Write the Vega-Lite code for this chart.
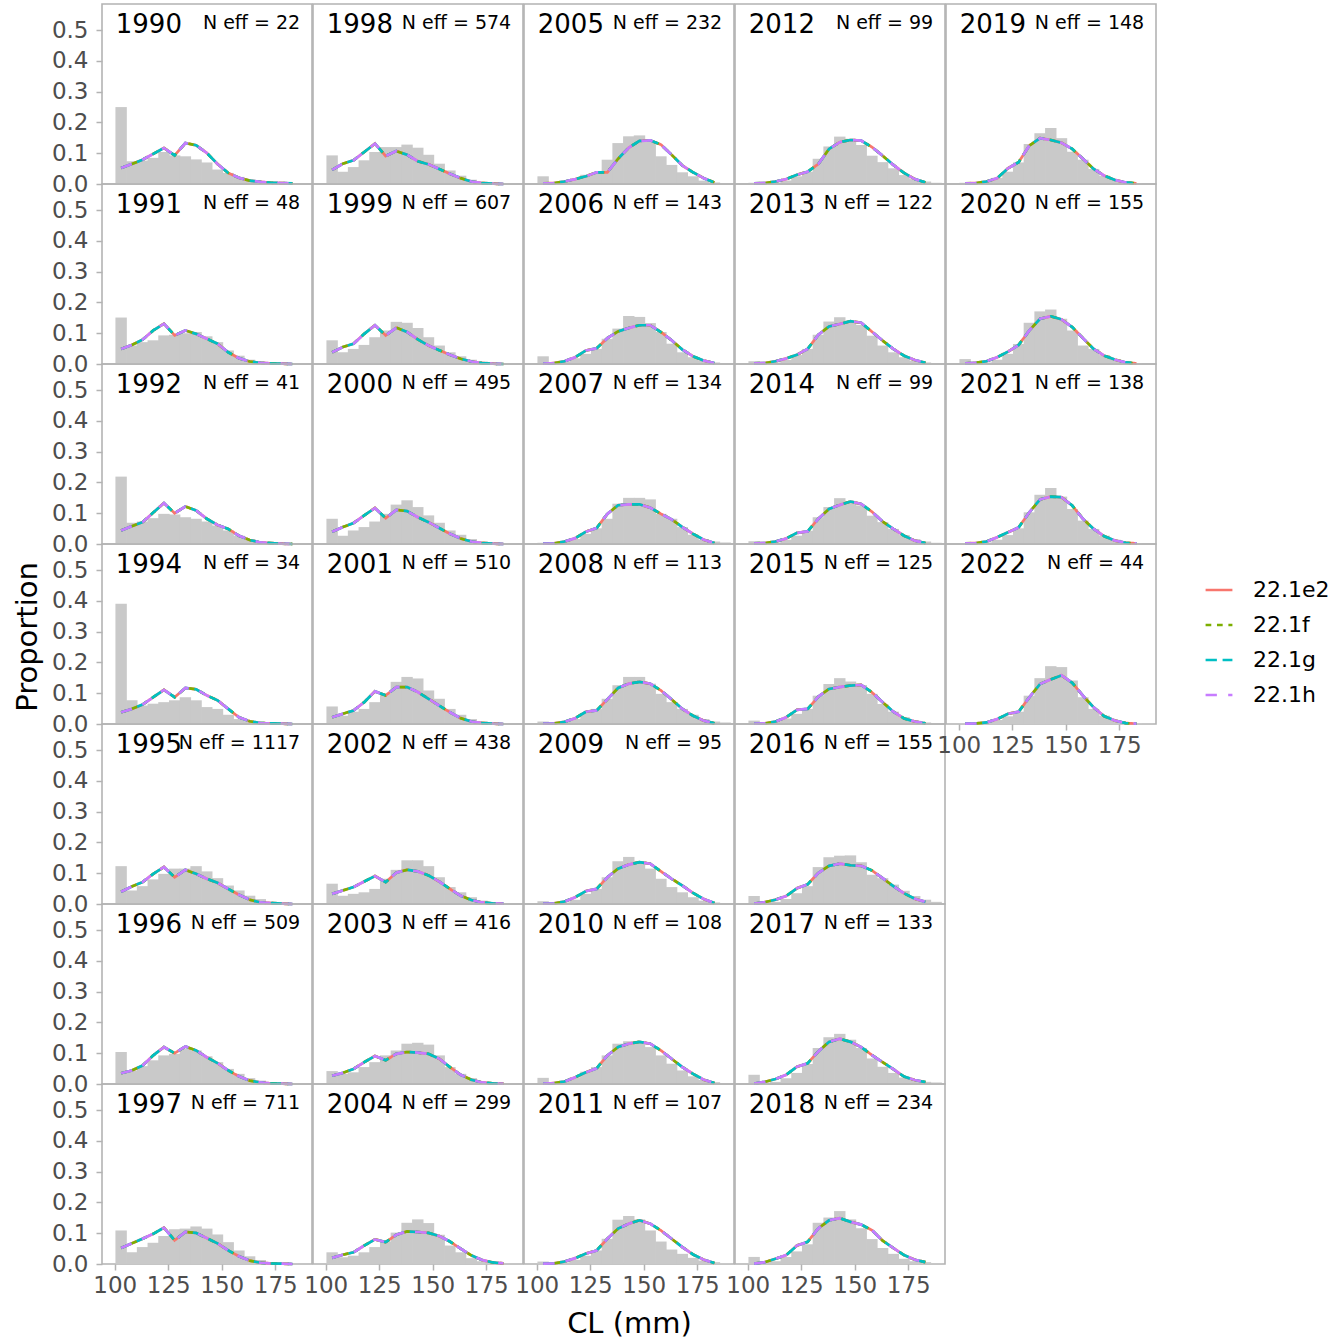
{
  "$schema": "https://vega.github.io/schema/vega-lite/v6.json",
  "padding": {"left": 13, "top": 3, "right": 0, "bottom": 0},
  "datasets": {
    "lf": [
      {"yr":1990,"cl":103,"obs":0.25,"fit":0.052,"lab":"N eff = 22"},{"yr":1990,"cl":108,"obs":0.074,"fit":0.065},{"yr":1990,"cl":113,"obs":0.076,"fit":0.079},{"yr":1990,"cl":118,"obs":0.085,"fit":0.098},{"yr":1990,"cl":123,"obs":0.104,"fit":0.117},{"yr":1990,"cl":128,"obs":0.093,"fit":0.093},{"yr":1990,"cl":133,"obs":0.09,"fit":0.133},{"yr":1990,"cl":138,"obs":0.08,"fit":0.126},{"yr":1990,"cl":143,"obs":0.07,"fit":0.101},{"yr":1990,"cl":148,"obs":0.047,"fit":0.065},{"yr":1990,"cl":153,"obs":0.036,"fit":0.036},{"yr":1990,"cl":158,"obs":0.023,"fit":0.02},{"yr":1990,"cl":163,"obs":0.014,"fit":0.011},{"yr":1990,"cl":168,"obs":0.008,"fit":0.007},{"yr":1990,"cl":173,"obs":0.005,"fit":0.004},{"yr":1990,"cl":178,"obs":0.003,"fit":0.003},{"yr":1990,"cl":183,"obs":0.002,"fit":0.002},{"yr":1990,"cl":188,"obs":0.001},

      {"yr":1991,"cl":103,"obs":0.151,"fit":0.049,"lab":"N eff = 48"},{"yr":1991,"cl":108,"obs":0.06,"fit":0.062},{"yr":1991,"cl":113,"obs":0.071,"fit":0.079},{"yr":1991,"cl":118,"obs":0.077,"fit":0.109},{"yr":1991,"cl":123,"obs":0.093,"fit":0.131},{"yr":1991,"cl":128,"obs":0.095,"fit":0.093},{"yr":1991,"cl":133,"obs":0.1,"fit":0.109},{"yr":1991,"cl":138,"obs":0.104,"fit":0.098},{"yr":1991,"cl":143,"obs":0.09,"fit":0.082},{"yr":1991,"cl":148,"obs":0.071,"fit":0.066},{"yr":1991,"cl":153,"obs":0.044,"fit":0.038},{"yr":1991,"cl":158,"obs":0.027,"fit":0.019},{"yr":1991,"cl":163,"obs":0.014,"fit":0.008},{"yr":1991,"cl":168,"obs":0.007,"fit":0.004},{"yr":1991,"cl":173,"obs":0.004,"fit":0.002},{"yr":1991,"cl":178,"obs":0.002,"fit":0.001},{"yr":1991,"cl":183,"obs":0.001,"fit":0},{"yr":1991,"cl":188,"obs":0},

      {"yr":1992,"cl":103,"obs":0.219,"fit":0.044,"lab":"N eff = 41"},{"yr":1992,"cl":108,"obs":0.069,"fit":0.058},{"yr":1992,"cl":113,"obs":0.073,"fit":0.071},{"yr":1992,"cl":118,"obs":0.084,"fit":0.102},{"yr":1992,"cl":123,"obs":0.098,"fit":0.133},{"yr":1992,"cl":128,"obs":0.096,"fit":0.1},{"yr":1992,"cl":133,"obs":0.087,"fit":0.122},{"yr":1992,"cl":138,"obs":0.082,"fit":0.109},{"yr":1992,"cl":143,"obs":0.073,"fit":0.082},{"yr":1992,"cl":148,"obs":0.06,"fit":0.062},{"yr":1992,"cl":153,"obs":0.044,"fit":0.049},{"yr":1992,"cl":158,"obs":0.027,"fit":0.027},{"yr":1992,"cl":163,"obs":0.016,"fit":0.013},{"yr":1992,"cl":168,"obs":0.009,"fit":0.005},{"yr":1992,"cl":173,"obs":0.005,"fit":0.003},{"yr":1992,"cl":178,"obs":0.003,"fit":0.001},{"yr":1992,"cl":183,"obs":0.001,"fit":0},{"yr":1992,"cl":188,"obs":0},

      {"yr":1994,"cl":103,"obs":0.391,"fit":0.038,"lab":"N eff = 34"},{"yr":1994,"cl":108,"obs":0.077,"fit":0.049},{"yr":1994,"cl":113,"obs":0.06,"fit":0.063},{"yr":1994,"cl":118,"obs":0.066,"fit":0.087},{"yr":1994,"cl":123,"obs":0.071,"fit":0.111},{"yr":1994,"cl":128,"obs":0.077,"fit":0.087},{"yr":1994,"cl":133,"obs":0.087,"fit":0.117},{"yr":1994,"cl":138,"obs":0.077,"fit":0.113},{"yr":1994,"cl":143,"obs":0.055,"fit":0.093},{"yr":1994,"cl":148,"obs":0.049,"fit":0.077},{"yr":1994,"cl":153,"obs":0.03,"fit":0.049},{"yr":1994,"cl":158,"obs":0.016,"fit":0.022},{"yr":1994,"cl":163,"obs":0.009,"fit":0.009},{"yr":1994,"cl":168,"obs":0.005,"fit":0.003},{"yr":1994,"cl":173,"obs":0.003,"fit":0.002},{"yr":1994,"cl":178,"obs":0.002,"fit":0.001},{"yr":1994,"cl":183,"obs":0.001,"fit":0},{"yr":1994,"cl":188,"obs":0},

      {"yr":1995,"cl":103,"obs":0.123,"fit":0.04,"lab":"N eff = 1117"},{"yr":1995,"cl":108,"obs":0.044,"fit":0.057},{"yr":1995,"cl":113,"obs":0.058,"fit":0.071},{"yr":1995,"cl":118,"obs":0.08,"fit":0.098},{"yr":1995,"cl":123,"obs":0.098,"fit":0.12},{"yr":1995,"cl":128,"obs":0.115,"fit":0.087},{"yr":1995,"cl":133,"obs":0.115,"fit":0.111},{"yr":1995,"cl":138,"obs":0.123,"fit":0.098},{"yr":1995,"cl":143,"obs":0.106,"fit":0.082},{"yr":1995,"cl":148,"obs":0.084,"fit":0.069},{"yr":1995,"cl":153,"obs":0.06,"fit":0.049},{"yr":1995,"cl":158,"obs":0.044,"fit":0.03},{"yr":1995,"cl":163,"obs":0.027,"fit":0.014},{"yr":1995,"cl":168,"obs":0.016,"fit":0.005},{"yr":1995,"cl":173,"obs":0.008,"fit":0.003},{"yr":1995,"cl":178,"obs":0.004,"fit":0.001},{"yr":1995,"cl":183,"obs":0.002,"fit":0},{"yr":1995,"cl":188,"obs":0.001},

      {"yr":1996,"cl":103,"obs":0.104,"fit":0.035,"lab":"N eff = 509"},{"yr":1996,"cl":108,"obs":0.044,"fit":0.044},{"yr":1996,"cl":113,"obs":0.058,"fit":0.06},{"yr":1996,"cl":118,"obs":0.077,"fit":0.093},{"yr":1996,"cl":123,"obs":0.093,"fit":0.12},{"yr":1996,"cl":128,"obs":0.098,"fit":0.1},{"yr":1996,"cl":133,"obs":0.115,"fit":0.122},{"yr":1996,"cl":138,"obs":0.109,"fit":0.109},{"yr":1996,"cl":143,"obs":0.09,"fit":0.087},{"yr":1996,"cl":148,"obs":0.071,"fit":0.068},{"yr":1996,"cl":153,"obs":0.049,"fit":0.044},{"yr":1996,"cl":158,"obs":0.033,"fit":0.025},{"yr":1996,"cl":163,"obs":0.019,"fit":0.011},{"yr":1996,"cl":168,"obs":0.011,"fit":0.005},{"yr":1996,"cl":173,"obs":0.005,"fit":0.002},{"yr":1996,"cl":178,"obs":0.003,"fit":0.001},{"yr":1996,"cl":183,"obs":0.001,"fit":0},{"yr":1996,"cl":188,"obs":0},

      {"yr":1997,"cl":103,"obs":0.109,"fit":0.052,"lab":"N eff = 711"},{"yr":1997,"cl":108,"obs":0.038,"fit":0.067},{"yr":1997,"cl":113,"obs":0.055,"fit":0.082},{"yr":1997,"cl":118,"obs":0.069,"fit":0.098},{"yr":1997,"cl":123,"obs":0.091,"fit":0.118},{"yr":1997,"cl":128,"obs":0.113,"fit":0.077},{"yr":1997,"cl":133,"obs":0.115,"fit":0.104},{"yr":1997,"cl":138,"obs":0.122,"fit":0.101},{"yr":1997,"cl":143,"obs":0.115,"fit":0.084},{"yr":1997,"cl":148,"obs":0.096,"fit":0.067},{"yr":1997,"cl":153,"obs":0.071,"fit":0.044},{"yr":1997,"cl":158,"obs":0.044,"fit":0.025},{"yr":1997,"cl":163,"obs":0.025,"fit":0.011},{"yr":1997,"cl":168,"obs":0.013,"fit":0.004},{"yr":1997,"cl":173,"obs":0.005,"fit":0.002},{"yr":1997,"cl":178,"obs":0.003,"fit":0.001},{"yr":1997,"cl":183,"obs":0.001,"fit":0},{"yr":1997,"cl":188,"obs":0},

      {"yr":1998,"cl":103,"obs":0.093,"fit":0.046,"lab":"N eff = 574"},{"yr":1998,"cl":108,"obs":0.04,"fit":0.066},{"yr":1998,"cl":113,"obs":0.055,"fit":0.077},{"yr":1998,"cl":118,"obs":0.077,"fit":0.104},{"yr":1998,"cl":123,"obs":0.104,"fit":0.131},{"yr":1998,"cl":128,"obs":0.12,"fit":0.091},{"yr":1998,"cl":133,"obs":0.12,"fit":0.107},{"yr":1998,"cl":138,"obs":0.128,"fit":0.095},{"yr":1998,"cl":143,"obs":0.118,"fit":0.074},{"yr":1998,"cl":148,"obs":0.095,"fit":0.064},{"yr":1998,"cl":153,"obs":0.066,"fit":0.049},{"yr":1998,"cl":158,"obs":0.044,"fit":0.033},{"yr":1998,"cl":163,"obs":0.027,"fit":0.019},{"yr":1998,"cl":168,"obs":0.014,"fit":0.008},{"yr":1998,"cl":173,"obs":0.008,"fit":0.003},{"yr":1998,"cl":178,"obs":0.004,"fit":0.001},{"yr":1998,"cl":183,"obs":0.002,"fit":0},{"yr":1998,"cl":188,"obs":0.001},

      {"yr":1999,"cl":103,"obs":0.077,"fit":0.038,"lab":"N eff = 607"},{"yr":1999,"cl":108,"obs":0.038,"fit":0.055},{"yr":1999,"cl":113,"obs":0.049,"fit":0.066},{"yr":1999,"cl":118,"obs":0.062,"fit":0.098},{"yr":1999,"cl":123,"obs":0.087,"fit":0.126},{"yr":1999,"cl":128,"obs":0.109,"fit":0.093},{"yr":1999,"cl":133,"obs":0.137,"fit":0.118},{"yr":1999,"cl":138,"obs":0.134,"fit":0.104},{"yr":1999,"cl":143,"obs":0.117,"fit":0.08},{"yr":1999,"cl":148,"obs":0.087,"fit":0.06},{"yr":1999,"cl":153,"obs":0.06,"fit":0.045},{"yr":1999,"cl":158,"obs":0.038,"fit":0.03},{"yr":1999,"cl":163,"obs":0.025,"fit":0.017},{"yr":1999,"cl":168,"obs":0.014,"fit":0.008},{"yr":1999,"cl":173,"obs":0.008,"fit":0.003},{"yr":1999,"cl":178,"obs":0.004,"fit":0.001},{"yr":1999,"cl":183,"obs":0.002,"fit":0},{"yr":1999,"cl":188,"obs":0.001},

      {"yr":2000,"cl":103,"obs":0.082,"fit":0.04,"lab":"N eff = 495"},{"yr":2000,"cl":108,"obs":0.027,"fit":0.055},{"yr":2000,"cl":113,"obs":0.044,"fit":0.068},{"yr":2000,"cl":118,"obs":0.055,"fit":0.093},{"yr":2000,"cl":123,"obs":0.073,"fit":0.117},{"yr":2000,"cl":128,"obs":0.098,"fit":0.084},{"yr":2000,"cl":133,"obs":0.128,"fit":0.111},{"yr":2000,"cl":138,"obs":0.142,"fit":0.107},{"yr":2000,"cl":143,"obs":0.12,"fit":0.087},{"yr":2000,"cl":148,"obs":0.093,"fit":0.071},{"yr":2000,"cl":153,"obs":0.069,"fit":0.052},{"yr":2000,"cl":158,"obs":0.044,"fit":0.033},{"yr":2000,"cl":163,"obs":0.03,"fit":0.018},{"yr":2000,"cl":168,"obs":0.016,"fit":0.008},{"yr":2000,"cl":173,"obs":0.009,"fit":0.003},{"yr":2000,"cl":178,"obs":0.005,"fit":0.001},{"yr":2000,"cl":183,"obs":0.002,"fit":0},{"yr":2000,"cl":188,"obs":0.001},

      {"yr":2001,"cl":103,"obs":0.057,"fit":0.022,"lab":"N eff = 510"},{"yr":2001,"cl":108,"obs":0.027,"fit":0.033},{"yr":2001,"cl":113,"obs":0.04,"fit":0.044},{"yr":2001,"cl":118,"obs":0.049,"fit":0.071},{"yr":2001,"cl":123,"obs":0.071,"fit":0.106},{"yr":2001,"cl":128,"obs":0.098,"fit":0.093},{"yr":2001,"cl":133,"obs":0.137,"fit":0.12},{"yr":2001,"cl":138,"obs":0.153,"fit":0.12},{"yr":2001,"cl":143,"obs":0.148,"fit":0.104},{"yr":2001,"cl":148,"obs":0.109,"fit":0.082},{"yr":2001,"cl":153,"obs":0.082,"fit":0.06},{"yr":2001,"cl":158,"obs":0.049,"fit":0.038},{"yr":2001,"cl":163,"obs":0.03,"fit":0.019},{"yr":2001,"cl":168,"obs":0.016,"fit":0.008},{"yr":2001,"cl":173,"obs":0.009,"fit":0.003},{"yr":2001,"cl":178,"obs":0.004,"fit":0.001},{"yr":2001,"cl":183,"obs":0.002,"fit":0},{"yr":2001,"cl":188,"obs":0.001},

      {"yr":2002,"cl":103,"obs":0.066,"fit":0.033,"lab":"N eff = 438"},{"yr":2002,"cl":108,"obs":0.027,"fit":0.044},{"yr":2002,"cl":113,"obs":0.033,"fit":0.055},{"yr":2002,"cl":118,"obs":0.038,"fit":0.073},{"yr":2002,"cl":123,"obs":0.049,"fit":0.091},{"yr":2002,"cl":128,"obs":0.082,"fit":0.071},{"yr":2002,"cl":133,"obs":0.111,"fit":0.102},{"yr":2002,"cl":138,"obs":0.142,"fit":0.111},{"yr":2002,"cl":143,"obs":0.142,"fit":0.106},{"yr":2002,"cl":148,"obs":0.123,"fit":0.093},{"yr":2002,"cl":153,"obs":0.087,"fit":0.073},{"yr":2002,"cl":158,"obs":0.055,"fit":0.049},{"yr":2002,"cl":163,"obs":0.038,"fit":0.027},{"yr":2002,"cl":168,"obs":0.022,"fit":0.013},{"yr":2002,"cl":173,"obs":0.011,"fit":0.005},{"yr":2002,"cl":178,"obs":0.005,"fit":0.002},{"yr":2002,"cl":183,"obs":0.002,"fit":0.001},{"yr":2002,"cl":188,"obs":0.001},

      {"yr":2003,"cl":103,"obs":0.042,"fit":0.027,"lab":"N eff = 416"},{"yr":2003,"cl":108,"obs":0.033,"fit":0.036},{"yr":2003,"cl":113,"obs":0.038,"fit":0.049},{"yr":2003,"cl":118,"obs":0.055,"fit":0.071},{"yr":2003,"cl":123,"obs":0.071,"fit":0.091},{"yr":2003,"cl":128,"obs":0.093,"fit":0.077},{"yr":2003,"cl":133,"obs":0.109,"fit":0.098},{"yr":2003,"cl":138,"obs":0.131,"fit":0.104},{"yr":2003,"cl":143,"obs":0.134,"fit":0.102},{"yr":2003,"cl":148,"obs":0.128,"fit":0.098},{"yr":2003,"cl":153,"obs":0.093,"fit":0.082},{"yr":2003,"cl":158,"obs":0.055,"fit":0.055},{"yr":2003,"cl":163,"obs":0.033,"fit":0.03},{"yr":2003,"cl":168,"obs":0.019,"fit":0.014},{"yr":2003,"cl":173,"obs":0.008,"fit":0.005},{"yr":2003,"cl":178,"obs":0.004,"fit":0.002},{"yr":2003,"cl":183,"obs":0.002,"fit":0.001},{"yr":2003,"cl":188,"obs":0.001},

      {"yr":2004,"cl":103,"obs":0.038,"fit":0.02,"lab":"N eff = 299"},{"yr":2004,"cl":108,"obs":0.022,"fit":0.03},{"yr":2004,"cl":113,"obs":0.027,"fit":0.038},{"yr":2004,"cl":118,"obs":0.038,"fit":0.06},{"yr":2004,"cl":123,"obs":0.055,"fit":0.08},{"yr":2004,"cl":128,"obs":0.073,"fit":0.071},{"yr":2004,"cl":133,"obs":0.102,"fit":0.095},{"yr":2004,"cl":138,"obs":0.134,"fit":0.106},{"yr":2004,"cl":143,"obs":0.145,"fit":0.104},{"yr":2004,"cl":148,"obs":0.133,"fit":0.101},{"yr":2004,"cl":153,"obs":0.095,"fit":0.091},{"yr":2004,"cl":158,"obs":0.06,"fit":0.073},{"yr":2004,"cl":163,"obs":0.038,"fit":0.05},{"yr":2004,"cl":168,"obs":0.019,"fit":0.028},{"yr":2004,"cl":173,"obs":0.009,"fit":0.013},{"yr":2004,"cl":178,"obs":0.004,"fit":0.005},{"yr":2004,"cl":183,"obs":0.002,"fit":0.002},{"yr":2004,"cl":188,"obs":0.001},

      {"yr":2005,"cl":103,"obs":0.025,"fit":0.002,"lab":"N eff = 232"},{"yr":2005,"cl":108,"obs":0.005,"fit":0.003},{"yr":2005,"cl":113,"obs":0.009,"fit":0.008},{"yr":2005,"cl":118,"obs":0.016,"fit":0.016},{"yr":2005,"cl":123,"obs":0.03,"fit":0.025},{"yr":2005,"cl":128,"obs":0.035,"fit":0.038},{"yr":2005,"cl":133,"obs":0.079,"fit":0.038},{"yr":2005,"cl":138,"obs":0.133,"fit":0.082},{"yr":2005,"cl":143,"obs":0.155,"fit":0.118},{"yr":2005,"cl":148,"obs":0.158,"fit":0.14},{"yr":2005,"cl":153,"obs":0.137,"fit":0.142},{"yr":2005,"cl":158,"obs":0.09,"fit":0.128},{"yr":2005,"cl":163,"obs":0.062,"fit":0.095},{"yr":2005,"cl":168,"obs":0.038,"fit":0.06},{"yr":2005,"cl":173,"obs":0.025,"fit":0.038},{"yr":2005,"cl":178,"obs":0.011,"fit":0.019},{"yr":2005,"cl":183,"obs":0.005,"fit":0.005},{"yr":2005,"cl":188,"obs":0.003},

      {"yr":2006,"cl":103,"obs":0.025,"fit":0.001,"lab":"N eff = 143"},{"yr":2006,"cl":108,"obs":0.005,"fit":0.003},{"yr":2006,"cl":113,"obs":0.008,"fit":0.009},{"yr":2006,"cl":118,"obs":0.019,"fit":0.022},{"yr":2006,"cl":123,"obs":0.033,"fit":0.044},{"yr":2006,"cl":128,"obs":0.049,"fit":0.051},{"yr":2006,"cl":133,"obs":0.082,"fit":0.084},{"yr":2006,"cl":138,"obs":0.115,"fit":0.106},{"yr":2006,"cl":143,"obs":0.156,"fit":0.117},{"yr":2006,"cl":148,"obs":0.153,"fit":0.126},{"yr":2006,"cl":153,"obs":0.133,"fit":0.126},{"yr":2006,"cl":158,"obs":0.104,"fit":0.104},{"yr":2006,"cl":163,"obs":0.066,"fit":0.077},{"yr":2006,"cl":168,"obs":0.038,"fit":0.047},{"yr":2006,"cl":173,"obs":0.022,"fit":0.025},{"yr":2006,"cl":178,"obs":0.011,"fit":0.011},{"yr":2006,"cl":183,"obs":0.005,"fit":0.003},{"yr":2006,"cl":188,"obs":0.002},

      {"yr":2007,"cl":103,"obs":0.004,"fit":0.001,"lab":"N eff = 134"},{"yr":2007,"cl":108,"obs":0.004,"fit":0.002},{"yr":2007,"cl":113,"obs":0.008,"fit":0.008},{"yr":2007,"cl":118,"obs":0.016,"fit":0.019},{"yr":2007,"cl":123,"obs":0.033,"fit":0.04},{"yr":2007,"cl":128,"obs":0.051,"fit":0.052},{"yr":2007,"cl":133,"obs":0.082,"fit":0.098},{"yr":2007,"cl":138,"obs":0.131,"fit":0.126},{"yr":2007,"cl":143,"obs":0.15,"fit":0.129},{"yr":2007,"cl":148,"obs":0.15,"fit":0.129},{"yr":2007,"cl":153,"obs":0.145,"fit":0.118},{"yr":2007,"cl":158,"obs":0.098,"fit":0.098},{"yr":2007,"cl":163,"obs":0.082,"fit":0.08},{"yr":2007,"cl":168,"obs":0.055,"fit":0.055},{"yr":2007,"cl":173,"obs":0.03,"fit":0.033},{"yr":2007,"cl":178,"obs":0.014,"fit":0.014},{"yr":2007,"cl":183,"obs":0.008,"fit":0.003},{"yr":2007,"cl":188,"obs":0.005},

      {"yr":2008,"cl":103,"obs":0.008,"fit":0.001,"lab":"N eff = 113"},{"yr":2008,"cl":108,"obs":0.005,"fit":0.002},{"yr":2008,"cl":113,"obs":0.008,"fit":0.007},{"yr":2008,"cl":118,"obs":0.016,"fit":0.019},{"yr":2008,"cl":123,"obs":0.036,"fit":0.04},{"yr":2008,"cl":128,"obs":0.049,"fit":0.044},{"yr":2008,"cl":133,"obs":0.082,"fit":0.08},{"yr":2008,"cl":138,"obs":0.126,"fit":0.117},{"yr":2008,"cl":143,"obs":0.153,"fit":0.131},{"yr":2008,"cl":148,"obs":0.153,"fit":0.137},{"yr":2008,"cl":153,"obs":0.131,"fit":0.131},{"yr":2008,"cl":158,"obs":0.098,"fit":0.109},{"yr":2008,"cl":163,"obs":0.071,"fit":0.08},{"yr":2008,"cl":168,"obs":0.049,"fit":0.049},{"yr":2008,"cl":173,"obs":0.03,"fit":0.027},{"yr":2008,"cl":178,"obs":0.016,"fit":0.011},{"yr":2008,"cl":183,"obs":0.008,"fit":0.002},{"yr":2008,"cl":188,"obs":0.005},

      {"yr":2009,"cl":103,"obs":0.009,"fit":0.001,"lab":"N eff = 95"},{"yr":2009,"cl":108,"obs":0.004,"fit":0.002},{"yr":2009,"cl":113,"obs":0.005,"fit":0.008},{"yr":2009,"cl":118,"obs":0.014,"fit":0.022},{"yr":2009,"cl":123,"obs":0.033,"fit":0.042},{"yr":2009,"cl":128,"obs":0.049,"fit":0.049},{"yr":2009,"cl":133,"obs":0.087,"fit":0.087},{"yr":2009,"cl":138,"obs":0.139,"fit":0.115},{"yr":2009,"cl":143,"obs":0.153,"fit":0.128},{"yr":2009,"cl":148,"obs":0.139,"fit":0.136},{"yr":2009,"cl":153,"obs":0.115,"fit":0.131},{"yr":2009,"cl":158,"obs":0.082,"fit":0.106},{"yr":2009,"cl":163,"obs":0.055,"fit":0.082},{"yr":2009,"cl":168,"obs":0.038,"fit":0.06},{"yr":2009,"cl":173,"obs":0.022,"fit":0.036},{"yr":2009,"cl":178,"obs":0.011,"fit":0.016},{"yr":2009,"cl":183,"obs":0.005,"fit":0.003},{"yr":2009,"cl":188,"obs":0.002},

      {"yr":2010,"cl":103,"obs":0.02,"fit":0.001,"lab":"N eff = 108"},{"yr":2010,"cl":108,"obs":0.005,"fit":0.003},{"yr":2010,"cl":113,"obs":0.009,"fit":0.008},{"yr":2010,"cl":118,"obs":0.022,"fit":0.022},{"yr":2010,"cl":123,"obs":0.04,"fit":0.038},{"yr":2010,"cl":128,"obs":0.055,"fit":0.051},{"yr":2010,"cl":133,"obs":0.093,"fit":0.093},{"yr":2010,"cl":138,"obs":0.131,"fit":0.12},{"yr":2010,"cl":143,"obs":0.139,"fit":0.131},{"yr":2010,"cl":148,"obs":0.139,"fit":0.137},{"yr":2010,"cl":153,"obs":0.12,"fit":0.131},{"yr":2010,"cl":158,"obs":0.093,"fit":0.109},{"yr":2010,"cl":163,"obs":0.066,"fit":0.082},{"yr":2010,"cl":168,"obs":0.044,"fit":0.055},{"yr":2010,"cl":173,"obs":0.025,"fit":0.033},{"yr":2010,"cl":178,"obs":0.013,"fit":0.014},{"yr":2010,"cl":183,"obs":0.006,"fit":0.003},{"yr":2010,"cl":188,"obs":0.003},

      {"yr":2011,"cl":103,"obs":0.008,"fit":0.001,"lab":"N eff = 107"},{"yr":2011,"cl":108,"obs":0.004,"fit":0.002},{"yr":2011,"cl":113,"obs":0.005,"fit":0.008},{"yr":2011,"cl":118,"obs":0.014,"fit":0.019},{"yr":2011,"cl":123,"obs":0.027,"fit":0.034},{"yr":2011,"cl":128,"obs":0.044,"fit":0.044},{"yr":2011,"cl":133,"obs":0.082,"fit":0.082},{"yr":2011,"cl":138,"obs":0.144,"fit":0.115},{"yr":2011,"cl":143,"obs":0.156,"fit":0.131},{"yr":2011,"cl":148,"obs":0.145,"fit":0.142},{"yr":2011,"cl":153,"obs":0.109,"fit":0.131},{"yr":2011,"cl":158,"obs":0.073,"fit":0.109},{"yr":2011,"cl":163,"obs":0.047,"fit":0.082},{"yr":2011,"cl":168,"obs":0.033,"fit":0.055},{"yr":2011,"cl":173,"obs":0.02,"fit":0.031},{"yr":2011,"cl":178,"obs":0.011,"fit":0.014},{"yr":2011,"cl":183,"obs":0.006,"fit":0.003},{"yr":2011,"cl":188,"obs":0.003},

      {"yr":2012,"cl":103,"obs":0.004,"fit":0.002,"lab":"N eff = 99"},{"yr":2012,"cl":108,"obs":0.004,"fit":0.003},{"yr":2012,"cl":113,"obs":0.005,"fit":0.008},{"yr":2012,"cl":118,"obs":0.011,"fit":0.016},{"yr":2012,"cl":123,"obs":0.025,"fit":0.03},{"yr":2012,"cl":128,"obs":0.04,"fit":0.04},{"yr":2012,"cl":133,"obs":0.082,"fit":0.065},{"yr":2012,"cl":138,"obs":0.122,"fit":0.114},{"yr":2012,"cl":143,"obs":0.154,"fit":0.136},{"yr":2012,"cl":148,"obs":0.147,"fit":0.143},{"yr":2012,"cl":153,"obs":0.127,"fit":0.141},{"yr":2012,"cl":158,"obs":0.092,"fit":0.12},{"yr":2012,"cl":163,"obs":0.071,"fit":0.092},{"yr":2012,"cl":168,"obs":0.051,"fit":0.062},{"yr":2012,"cl":173,"obs":0.029,"fit":0.036},{"yr":2012,"cl":178,"obs":0.016,"fit":0.016},{"yr":2012,"cl":183,"obs":0.008,"fit":0.005},{"yr":2012,"cl":188,"obs":0.004},

      {"yr":2013,"cl":103,"obs":0.009,"fit":0.002,"lab":"N eff = 122"},{"yr":2013,"cl":108,"obs":0.003,"fit":0.003},{"yr":2013,"cl":113,"obs":0.005,"fit":0.009},{"yr":2013,"cl":118,"obs":0.013,"fit":0.018},{"yr":2013,"cl":123,"obs":0.029,"fit":0.03},{"yr":2013,"cl":128,"obs":0.049,"fit":0.049},{"yr":2013,"cl":133,"obs":0.095,"fit":0.095},{"yr":2013,"cl":138,"obs":0.138,"fit":0.122},{"yr":2013,"cl":143,"obs":0.152,"fit":0.13},{"yr":2013,"cl":148,"obs":0.141,"fit":0.139},{"yr":2013,"cl":153,"obs":0.127,"fit":0.134},{"yr":2013,"cl":158,"obs":0.092,"fit":0.105},{"yr":2013,"cl":163,"obs":0.06,"fit":0.076},{"yr":2013,"cl":168,"obs":0.038,"fit":0.049},{"yr":2013,"cl":173,"obs":0.022,"fit":0.027},{"yr":2013,"cl":178,"obs":0.011,"fit":0.013},{"yr":2013,"cl":183,"obs":0.005,"fit":0.004},{"yr":2013,"cl":188,"obs":0.002},

      {"yr":2014,"cl":103,"obs":0.009,"fit":0.002,"lab":"N eff = 99"},{"yr":2014,"cl":108,"obs":0.004,"fit":0.003},{"yr":2014,"cl":113,"obs":0.005,"fit":0.008},{"yr":2014,"cl":118,"obs":0.014,"fit":0.018},{"yr":2014,"cl":123,"obs":0.027,"fit":0.036},{"yr":2014,"cl":128,"obs":0.043,"fit":0.041},{"yr":2014,"cl":133,"obs":0.087,"fit":0.082},{"yr":2014,"cl":138,"obs":0.12,"fit":0.114},{"yr":2014,"cl":143,"obs":0.149,"fit":0.127},{"yr":2014,"cl":148,"obs":0.136,"fit":0.138},{"yr":2014,"cl":153,"obs":0.125,"fit":0.13},{"yr":2014,"cl":158,"obs":0.092,"fit":0.105},{"yr":2014,"cl":163,"obs":0.071,"fit":0.073},{"yr":2014,"cl":168,"obs":0.049,"fit":0.049},{"yr":2014,"cl":173,"obs":0.029,"fit":0.027},{"yr":2014,"cl":178,"obs":0.016,"fit":0.011},{"yr":2014,"cl":183,"obs":0.008,"fit":0.003},{"yr":2014,"cl":188,"obs":0.004},

      {"yr":2015,"cl":103,"obs":0.011,"fit":0.001,"lab":"N eff = 125"},{"yr":2015,"cl":108,"obs":0.005,"fit":0.002},{"yr":2015,"cl":113,"obs":0.008,"fit":0.008},{"yr":2015,"cl":118,"obs":0.018,"fit":0.022},{"yr":2015,"cl":123,"obs":0.033,"fit":0.046},{"yr":2015,"cl":128,"obs":0.049,"fit":0.049},{"yr":2015,"cl":133,"obs":0.092,"fit":0.089},{"yr":2015,"cl":138,"obs":0.13,"fit":0.114},{"yr":2015,"cl":143,"obs":0.149,"fit":0.12},{"yr":2015,"cl":148,"obs":0.138,"fit":0.125},{"yr":2015,"cl":153,"obs":0.127,"fit":0.127},{"yr":2015,"cl":158,"obs":0.098,"fit":0.103},{"yr":2015,"cl":163,"obs":0.065,"fit":0.071},{"yr":2015,"cl":168,"obs":0.04,"fit":0.04},{"yr":2015,"cl":173,"obs":0.022,"fit":0.018},{"yr":2015,"cl":178,"obs":0.011,"fit":0.008},{"yr":2015,"cl":183,"obs":0.005,"fit":0.002},{"yr":2015,"cl":188,"obs":0.003},

      {"yr":2016,"cl":103,"obs":0.026,"fit":0.001,"lab":"N eff = 155"},{"yr":2016,"cl":108,"obs":0.005,"fit":0.006},{"yr":2016,"cl":113,"obs":0.007,"fit":0.014},{"yr":2016,"cl":118,"obs":0.016,"fit":0.026},{"yr":2016,"cl":123,"obs":0.035,"fit":0.051},{"yr":2016,"cl":128,"obs":0.058,"fit":0.064},{"yr":2016,"cl":133,"obs":0.12,"fit":0.101},{"yr":2016,"cl":138,"obs":0.152,"fit":0.124},{"yr":2016,"cl":143,"obs":0.157,"fit":0.131},{"yr":2016,"cl":148,"obs":0.158,"fit":0.126},{"yr":2016,"cl":153,"obs":0.136,"fit":0.124},{"yr":2016,"cl":158,"obs":0.095,"fit":0.109},{"yr":2016,"cl":163,"obs":0.084,"fit":0.084},{"yr":2016,"cl":168,"obs":0.063,"fit":0.058},{"yr":2016,"cl":173,"obs":0.043,"fit":0.035},{"yr":2016,"cl":178,"obs":0.026,"fit":0.017},{"yr":2016,"cl":183,"obs":0.014,"fit":0.007},{"yr":2016,"cl":188,"obs":0.007},

      {"yr":2017,"cl":103,"obs":0.03,"fit":0.001,"lab":"N eff = 133"},{"yr":2017,"cl":108,"obs":0.005,"fit":0.007},{"yr":2017,"cl":113,"obs":0.007,"fit":0.016},{"yr":2017,"cl":118,"obs":0.019,"fit":0.03},{"yr":2017,"cl":123,"obs":0.036,"fit":0.056},{"yr":2017,"cl":128,"obs":0.065,"fit":0.067},{"yr":2017,"cl":133,"obs":0.117,"fit":0.106},{"yr":2017,"cl":138,"obs":0.152,"fit":0.137},{"yr":2017,"cl":143,"obs":0.163,"fit":0.147},{"yr":2017,"cl":148,"obs":0.144,"fit":0.137},{"yr":2017,"cl":153,"obs":0.117,"fit":0.12},{"yr":2017,"cl":158,"obs":0.083,"fit":0.094},{"yr":2017,"cl":163,"obs":0.056,"fit":0.071},{"yr":2017,"cl":168,"obs":0.036,"fit":0.048},{"yr":2017,"cl":173,"obs":0.021,"fit":0.024},{"yr":2017,"cl":178,"obs":0.013,"fit":0.013},{"yr":2017,"cl":183,"obs":0.007,"fit":0.006},{"yr":2017,"cl":188,"obs":0.005},

      {"yr":2018,"cl":103,"obs":0.023,"fit":0.001,"lab":"N eff = 234"},{"yr":2018,"cl":108,"obs":0.006,"fit":0.006},{"yr":2018,"cl":113,"obs":0.009,"fit":0.017},{"yr":2018,"cl":118,"obs":0.023,"fit":0.029},{"yr":2018,"cl":123,"obs":0.041,"fit":0.06},{"yr":2018,"cl":128,"obs":0.064,"fit":0.072},{"yr":2018,"cl":133,"obs":0.134,"fit":0.116},{"yr":2018,"cl":138,"obs":0.151,"fit":0.142},{"yr":2018,"cl":143,"obs":0.172,"fit":0.149},{"yr":2018,"cl":148,"obs":0.145,"fit":0.137},{"yr":2018,"cl":153,"obs":0.116,"fit":0.128},{"yr":2018,"cl":158,"obs":0.081,"fit":0.11},{"yr":2018,"cl":163,"obs":0.052,"fit":0.076},{"yr":2018,"cl":168,"obs":0.033,"fit":0.052},{"yr":2018,"cl":173,"obs":0.017,"fit":0.029},{"yr":2018,"cl":178,"obs":0.009,"fit":0.014},{"yr":2018,"cl":183,"obs":0.006,"fit":0.006},{"yr":2018,"cl":188,"obs":0.002},

      {"yr":2019,"cl":103,"obs":0.004,"fit":0.002,"lab":"N eff = 148"},{"yr":2019,"cl":108,"obs":0.003,"fit":0.003},{"yr":2019,"cl":113,"obs":0.008,"fit":0.008},{"yr":2019,"cl":118,"obs":0.02,"fit":0.019},{"yr":2019,"cl":123,"obs":0.04,"fit":0.051},{"yr":2019,"cl":128,"obs":0.07,"fit":0.071},{"yr":2019,"cl":133,"obs":0.13,"fit":0.125},{"yr":2019,"cl":138,"obs":0.165,"fit":0.149},{"yr":2019,"cl":143,"obs":0.182,"fit":0.143},{"yr":2019,"cl":148,"obs":0.149,"fit":0.134},{"yr":2019,"cl":153,"obs":0.105,"fit":0.114},{"yr":2019,"cl":158,"obs":0.079,"fit":0.082},{"yr":2019,"cl":163,"obs":0.049,"fit":0.049},{"yr":2019,"cl":168,"obs":0.027,"fit":0.027},{"yr":2019,"cl":173,"obs":0.014,"fit":0.013},{"yr":2019,"cl":178,"obs":0.005,"fit":0.005},{"yr":2019,"cl":183,"obs":0.003,"fit":0.002},{"yr":2019,"cl":188,"obs":0.002},

      {"yr":2020,"cl":103,"obs":0.016,"fit":0.002,"lab":"N eff = 155"},{"yr":2020,"cl":108,"obs":0.003,"fit":0.004},{"yr":2020,"cl":113,"obs":0.005,"fit":0.009},{"yr":2020,"cl":118,"obs":0.014,"fit":0.022},{"yr":2020,"cl":123,"obs":0.033,"fit":0.04},{"yr":2020,"cl":128,"obs":0.065,"fit":0.062},{"yr":2020,"cl":133,"obs":0.134,"fit":0.109},{"yr":2020,"cl":138,"obs":0.171,"fit":0.147},{"yr":2020,"cl":143,"obs":0.177,"fit":0.155},{"yr":2020,"cl":148,"obs":0.147,"fit":0.145},{"yr":2020,"cl":153,"obs":0.109,"fit":0.12},{"yr":2020,"cl":158,"obs":0.06,"fit":0.084},{"yr":2020,"cl":163,"obs":0.049,"fit":0.049},{"yr":2020,"cl":168,"obs":0.029,"fit":0.027},{"yr":2020,"cl":173,"obs":0.016,"fit":0.014},{"yr":2020,"cl":178,"obs":0.008,"fit":0.005},{"yr":2020,"cl":183,"obs":0.003,"fit":0.002},{"yr":2020,"cl":188,"obs":0.002},

      {"yr":2021,"cl":103,"obs":0.003,"fit":0.002,"lab":"N eff = 138"},{"yr":2021,"cl":108,"obs":0.003,"fit":0.003},{"yr":2021,"cl":113,"obs":0.005,"fit":0.008},{"yr":2021,"cl":118,"obs":0.014,"fit":0.022},{"yr":2021,"cl":123,"obs":0.029,"fit":0.038},{"yr":2021,"cl":128,"obs":0.051,"fit":0.054},{"yr":2021,"cl":133,"obs":0.103,"fit":0.103},{"yr":2021,"cl":138,"obs":0.16,"fit":0.145},{"yr":2021,"cl":143,"obs":0.182,"fit":0.154},{"yr":2021,"cl":148,"obs":0.154,"fit":0.152},{"yr":2021,"cl":153,"obs":0.114,"fit":0.125},{"yr":2021,"cl":158,"obs":0.076,"fit":0.082},{"yr":2021,"cl":163,"obs":0.049,"fit":0.049},{"yr":2021,"cl":168,"obs":0.027,"fit":0.025},{"yr":2021,"cl":173,"obs":0.014,"fit":0.011},{"yr":2021,"cl":178,"obs":0.005,"fit":0.004},{"yr":2021,"cl":183,"obs":0.003,"fit":0.002},{"yr":2021,"cl":188,"obs":0.002},

      {"yr":2022,"cl":103,"obs":0.003,"fit":0.001,"lab":"N eff = 44"},{"yr":2022,"cl":108,"obs":0.003,"fit":0.002},{"yr":2022,"cl":113,"obs":0.005,"fit":0.005},{"yr":2022,"cl":118,"obs":0.013,"fit":0.016},{"yr":2022,"cl":123,"obs":0.025,"fit":0.033},{"yr":2022,"cl":128,"obs":0.04,"fit":0.04},{"yr":2022,"cl":133,"obs":0.092,"fit":0.087},{"yr":2022,"cl":138,"obs":0.149,"fit":0.13},{"yr":2022,"cl":143,"obs":0.188,"fit":0.145},{"yr":2022,"cl":148,"obs":0.185,"fit":0.158},{"yr":2022,"cl":153,"obs":0.141,"fit":0.134},{"yr":2022,"cl":158,"obs":0.087,"fit":0.092},{"yr":2022,"cl":163,"obs":0.049,"fit":0.054},{"yr":2022,"cl":168,"obs":0.027,"fit":0.025},{"yr":2022,"cl":173,"obs":0.013,"fit":0.011},{"yr":2022,"cl":178,"obs":0.005,"fit":0.003},{"yr":2022,"cl":183,"obs":0.003,"fit":0.001},{"yr":2022,"cl":188,"obs":0.002}
    ]
  },
  "data": {"name": "lf"},
  "columns": 5,
  "align": "each",
  "bounds": "full",
  "spacing": -13.8,
  "concat": [
    {
      "transform": [{"filter": {"field": "yr", "range": [1990, 1997]}}],
      "facet": {"row": {"field": "yr", "type": "ordinal", "title": "Proportion", "header": {"labels": false, "titlePadding": -2}}},
      "spacing": 0,
      "bounds": "flush",
      "spec": {
        "width": 210, "height": 180,
        "encoding": {"x": {"field": "cl", "type": "quantitative", "title": null, "scale": {"domain": [96.4, 189.8], "nice": false, "zero": false}, "axis": {"values": [100, 125, 150, 175], "labelFlush": false, "labelOverlap": false, "labelPadding": 4}}},
        "layer": [
          {"transform": [{"filter": {"field": "obs", "valid": true}}],
           "mark": {"type": "bar", "color": "#c9c9c9", "width": 11.4, "orient": "vertical"},
           "encoding": {"y": {"field": "obs", "type": "quantitative", "title": null, "scale": {"domain": [0, 0.585], "nice": false}, "axis": {"values": [0, 0.1, 0.2, 0.3, 0.4, 0.5], "format": ".1f", "labelPadding": 8, "labelOverlap": false}}}},
          {"transform": [{"filter": {"field": "fit", "valid": true}}],
           "mark": {"type": "line", "strokeWidth": 2.7},
           "encoding": {"y": {"field": "fit", "type": "quantitative", "title": null, "axis": {"values": [0, 0.1, 0.2, 0.3, 0.4, 0.5], "format": ".1f", "labelPadding": 8, "labelOverlap": false}},
             "color": {"datum": "22.1e2", "type": "nominal", "scale": {"domain": ["22.1e2", "22.1f", "22.1g", "22.1h"], "range": ["#F8766D", "#7CAE00", "#00BFC4", "#C77CFF"]}, "legend": {"title": null, "orient": "none", "legendX": 1102, "legendY": 571}},
             "strokeDash": {"datum": "22.1e2", "type": "nominal", "scale": {"domain": ["22.1e2", "22.1f", "22.1g", "22.1h"], "range": [[1, 0], [5.7, 5.7], [11.3, 5.7], [11.3, 11.3]]}}}},
          {"transform": [{"filter": {"field": "fit", "valid": true}}],
           "mark": {"type": "line", "strokeWidth": 2.7},
           "encoding": {"y": {"field": "fit", "type": "quantitative", "title": null, "axis": {"values": [0, 0.1, 0.2, 0.3, 0.4, 0.5], "format": ".1f", "labelPadding": 8, "labelOverlap": false}}, "color": {"datum": "22.1f", "type": "nominal"}, "strokeDash": {"datum": "22.1f", "type": "nominal"}}},
          {"transform": [{"filter": {"field": "fit", "valid": true}}],
           "mark": {"type": "line", "strokeWidth": 2.7},
           "encoding": {"y": {"field": "fit", "type": "quantitative", "title": null, "axis": {"values": [0, 0.1, 0.2, 0.3, 0.4, 0.5], "format": ".1f", "labelPadding": 8, "labelOverlap": false}}, "color": {"datum": "22.1g", "type": "nominal"}, "strokeDash": {"datum": "22.1g", "type": "nominal"}}},
          {"transform": [{"filter": {"field": "fit", "valid": true}}],
           "mark": {"type": "line", "strokeWidth": 2.7},
           "encoding": {"y": {"field": "fit", "type": "quantitative", "title": null, "axis": {"values": [0, 0.1, 0.2, 0.3, 0.4, 0.5], "format": ".1f", "labelPadding": 8, "labelOverlap": false}}, "color": {"datum": "22.1h", "type": "nominal"}, "strokeDash": {"datum": "22.1h", "type": "nominal"}}},
          {"transform": [{"filter": "isValid(datum.lab)"}],
           "mark": {"type": "text", "align": "left", "baseline": "alphabetic", "fontSize": 26, "color": "#000000"},
           "encoding": {"x": {"datum": 100.5, "type": "quantitative", "title": null}, "y": {"datum": 0.49, "type": "quantitative", "title": null, "axis": {"values": [0, 0.1, 0.2, 0.3, 0.4, 0.5], "format": ".1f", "labelPadding": 8, "labelOverlap": false}}, "text": {"field": "yr", "type": "ordinal"}}},
          {"transform": [{"filter": "isValid(datum.lab)"}],
           "mark": {"type": "text", "align": "right", "baseline": "alphabetic", "fontSize": 19, "color": "#000000"},
           "encoding": {"x": {"datum": 186.6, "type": "quantitative", "title": null}, "y": {"datum": 0.505, "type": "quantitative", "title": null, "axis": {"values": [0, 0.1, 0.2, 0.3, 0.4, 0.5], "format": ".1f", "labelPadding": 8, "labelOverlap": false}}, "text": {"field": "lab", "type": "nominal"}}}
        ]
      }
    },
    {
      "transform": [{"filter": {"field": "yr", "range": [1998, 2004]}}],
      "facet": {"row": {"field": "yr", "type": "ordinal", "title": null, "header": {"labels": false}}},
      "spacing": 0,
      "bounds": "flush",
      "spec": {
        "width": 210, "height": 180,
        "encoding": {"x": {"field": "cl", "type": "quantitative", "title": null, "scale": {"domain": [96.4, 189.8], "nice": false, "zero": false}, "axis": {"values": [100, 125, 150, 175], "labelFlush": false, "labelOverlap": false, "labelPadding": 4}}},
        "layer": [
          {"transform": [{"filter": {"field": "obs", "valid": true}}],
           "mark": {"type": "bar", "color": "#c9c9c9", "width": 11.4, "orient": "vertical"},
           "encoding": {"y": {"field": "obs", "type": "quantitative", "title": null, "scale": {"domain": [0, 0.585], "nice": false}, "axis": null}}},
          {"transform": [{"filter": {"field": "fit", "valid": true}}],
           "mark": {"type": "line", "strokeWidth": 2.7},
           "encoding": {"y": {"field": "fit", "type": "quantitative", "axis": null}, "color": {"datum": "22.1e2", "type": "nominal"}, "strokeDash": {"datum": "22.1e2", "type": "nominal"}}},
          {"transform": [{"filter": {"field": "fit", "valid": true}}],
           "mark": {"type": "line", "strokeWidth": 2.7},
           "encoding": {"y": {"field": "fit", "type": "quantitative", "axis": null}, "color": {"datum": "22.1f", "type": "nominal"}, "strokeDash": {"datum": "22.1f", "type": "nominal"}}},
          {"transform": [{"filter": {"field": "fit", "valid": true}}],
           "mark": {"type": "line", "strokeWidth": 2.7},
           "encoding": {"y": {"field": "fit", "type": "quantitative", "axis": null}, "color": {"datum": "22.1g", "type": "nominal"}, "strokeDash": {"datum": "22.1g", "type": "nominal"}}},
          {"transform": [{"filter": {"field": "fit", "valid": true}}],
           "mark": {"type": "line", "strokeWidth": 2.7},
           "encoding": {"y": {"field": "fit", "type": "quantitative", "axis": null}, "color": {"datum": "22.1h", "type": "nominal"}, "strokeDash": {"datum": "22.1h", "type": "nominal"}}},
          {"transform": [{"filter": "isValid(datum.lab)"}],
           "mark": {"type": "text", "align": "left", "baseline": "alphabetic", "fontSize": 26, "color": "#000000"},
           "encoding": {"x": {"datum": 100.5, "type": "quantitative", "title": null}, "y": {"datum": 0.49, "type": "quantitative", "axis": null}, "text": {"field": "yr", "type": "ordinal"}}},
          {"transform": [{"filter": "isValid(datum.lab)"}],
           "mark": {"type": "text", "align": "right", "baseline": "alphabetic", "fontSize": 19, "color": "#000000"},
           "encoding": {"x": {"datum": 186.6, "type": "quantitative", "title": null}, "y": {"datum": 0.505, "type": "quantitative", "axis": null}, "text": {"field": "lab", "type": "nominal"}}}
        ]
      }
    },
    {
      "transform": [{"filter": {"field": "yr", "range": [2005, 2011]}}],
      "facet": {"row": {"field": "yr", "type": "ordinal", "title": null, "header": {"labels": false}}},
      "spacing": 0,
      "bounds": "flush",
      "spec": {
        "width": 210, "height": 180,
        "encoding": {"x": {"field": "cl", "type": "quantitative", "title": "CL (mm)", "scale": {"domain": [96.4, 189.8], "nice": false, "zero": false}, "axis": {"values": [100, 125, 150, 175], "labelFlush": false, "labelOverlap": false, "labelPadding": 4, "titlePadding": 12}}},
        "layer": [
          {"transform": [{"filter": {"field": "obs", "valid": true}}],
           "mark": {"type": "bar", "color": "#c9c9c9", "width": 11.4, "orient": "vertical"},
           "encoding": {"y": {"field": "obs", "type": "quantitative", "title": null, "scale": {"domain": [0, 0.585], "nice": false}, "axis": null}}},
          {"transform": [{"filter": {"field": "fit", "valid": true}}],
           "mark": {"type": "line", "strokeWidth": 2.7},
           "encoding": {"y": {"field": "fit", "type": "quantitative", "axis": null}, "color": {"datum": "22.1e2", "type": "nominal"}, "strokeDash": {"datum": "22.1e2", "type": "nominal"}}},
          {"transform": [{"filter": {"field": "fit", "valid": true}}],
           "mark": {"type": "line", "strokeWidth": 2.7},
           "encoding": {"y": {"field": "fit", "type": "quantitative", "axis": null}, "color": {"datum": "22.1f", "type": "nominal"}, "strokeDash": {"datum": "22.1f", "type": "nominal"}}},
          {"transform": [{"filter": {"field": "fit", "valid": true}}],
           "mark": {"type": "line", "strokeWidth": 2.7},
           "encoding": {"y": {"field": "fit", "type": "quantitative", "axis": null}, "color": {"datum": "22.1g", "type": "nominal"}, "strokeDash": {"datum": "22.1g", "type": "nominal"}}},
          {"transform": [{"filter": {"field": "fit", "valid": true}}],
           "mark": {"type": "line", "strokeWidth": 2.7},
           "encoding": {"y": {"field": "fit", "type": "quantitative", "axis": null}, "color": {"datum": "22.1h", "type": "nominal"}, "strokeDash": {"datum": "22.1h", "type": "nominal"}}},
          {"transform": [{"filter": "isValid(datum.lab)"}],
           "mark": {"type": "text", "align": "left", "baseline": "alphabetic", "fontSize": 26, "color": "#000000"},
           "encoding": {"x": {"datum": 100.5, "type": "quantitative", "title": "CL (mm)"}, "y": {"datum": 0.49, "type": "quantitative", "axis": null}, "text": {"field": "yr", "type": "ordinal"}}},
          {"transform": [{"filter": "isValid(datum.lab)"}],
           "mark": {"type": "text", "align": "right", "baseline": "alphabetic", "fontSize": 19, "color": "#000000"},
           "encoding": {"x": {"datum": 186.6, "type": "quantitative", "title": "CL (mm)"}, "y": {"datum": 0.505, "type": "quantitative", "axis": null}, "text": {"field": "lab", "type": "nominal"}}}
        ]
      }
    },
    {
      "transform": [{"filter": {"field": "yr", "range": [2012, 2018]}}],
      "facet": {"row": {"field": "yr", "type": "ordinal", "title": null, "header": {"labels": false}}},
      "spacing": 0,
      "bounds": "flush",
      "spec": {
        "width": 210, "height": 180,
        "encoding": {"x": {"field": "cl", "type": "quantitative", "title": null, "scale": {"domain": [96.4, 189.8], "nice": false, "zero": false}, "axis": {"values": [100, 125, 150, 175], "labelFlush": false, "labelOverlap": false, "labelPadding": 4}}},
        "layer": [
          {"transform": [{"filter": {"field": "obs", "valid": true}}],
           "mark": {"type": "bar", "color": "#c9c9c9", "width": 11.4, "orient": "vertical"},
           "encoding": {"y": {"field": "obs", "type": "quantitative", "title": null, "scale": {"domain": [0, 0.585], "nice": false}, "axis": null}}},
          {"transform": [{"filter": {"field": "fit", "valid": true}}],
           "mark": {"type": "line", "strokeWidth": 2.7},
           "encoding": {"y": {"field": "fit", "type": "quantitative", "axis": null}, "color": {"datum": "22.1e2", "type": "nominal"}, "strokeDash": {"datum": "22.1e2", "type": "nominal"}}},
          {"transform": [{"filter": {"field": "fit", "valid": true}}],
           "mark": {"type": "line", "strokeWidth": 2.7},
           "encoding": {"y": {"field": "fit", "type": "quantitative", "axis": null}, "color": {"datum": "22.1f", "type": "nominal"}, "strokeDash": {"datum": "22.1f", "type": "nominal"}}},
          {"transform": [{"filter": {"field": "fit", "valid": true}}],
           "mark": {"type": "line", "strokeWidth": 2.7},
           "encoding": {"y": {"field": "fit", "type": "quantitative", "axis": null}, "color": {"datum": "22.1g", "type": "nominal"}, "strokeDash": {"datum": "22.1g", "type": "nominal"}}},
          {"transform": [{"filter": {"field": "fit", "valid": true}}],
           "mark": {"type": "line", "strokeWidth": 2.7},
           "encoding": {"y": {"field": "fit", "type": "quantitative", "axis": null}, "color": {"datum": "22.1h", "type": "nominal"}, "strokeDash": {"datum": "22.1h", "type": "nominal"}}},
          {"transform": [{"filter": "isValid(datum.lab)"}],
           "mark": {"type": "text", "align": "left", "baseline": "alphabetic", "fontSize": 26, "color": "#000000"},
           "encoding": {"x": {"datum": 100.5, "type": "quantitative", "title": null}, "y": {"datum": 0.49, "type": "quantitative", "axis": null}, "text": {"field": "yr", "type": "ordinal"}}},
          {"transform": [{"filter": "isValid(datum.lab)"}],
           "mark": {"type": "text", "align": "right", "baseline": "alphabetic", "fontSize": 19, "color": "#000000"},
           "encoding": {"x": {"datum": 186.6, "type": "quantitative", "title": null}, "y": {"datum": 0.505, "type": "quantitative", "axis": null}, "text": {"field": "lab", "type": "nominal"}}}
        ]
      }
    },
    {
      "transform": [{"filter": {"field": "yr", "range": [2019, 2022]}}],
      "facet": {"row": {"field": "yr", "type": "ordinal", "title": null, "header": {"labels": false}}},
      "spacing": 0,
      "bounds": "flush",
      "spec": {
        "width": 210, "height": 180,
        "encoding": {"x": {"field": "cl", "type": "quantitative", "title": null, "scale": {"domain": [96.4, 189.8], "nice": false, "zero": false}, "axis": {"values": [100, 125, 150, 175], "labelFlush": false, "labelOverlap": false, "labelPadding": 4}}},
        "layer": [
          {"transform": [{"filter": {"field": "obs", "valid": true}}],
           "mark": {"type": "bar", "color": "#c9c9c9", "width": 11.4, "orient": "vertical"},
           "encoding": {"y": {"field": "obs", "type": "quantitative", "title": null, "scale": {"domain": [0, 0.585], "nice": false}, "axis": null}}},
          {"transform": [{"filter": {"field": "fit", "valid": true}}],
           "mark": {"type": "line", "strokeWidth": 2.7},
           "encoding": {"y": {"field": "fit", "type": "quantitative", "axis": null}, "color": {"datum": "22.1e2", "type": "nominal"}, "strokeDash": {"datum": "22.1e2", "type": "nominal"}}},
          {"transform": [{"filter": {"field": "fit", "valid": true}}],
           "mark": {"type": "line", "strokeWidth": 2.7},
           "encoding": {"y": {"field": "fit", "type": "quantitative", "axis": null}, "color": {"datum": "22.1f", "type": "nominal"}, "strokeDash": {"datum": "22.1f", "type": "nominal"}}},
          {"transform": [{"filter": {"field": "fit", "valid": true}}],
           "mark": {"type": "line", "strokeWidth": 2.7},
           "encoding": {"y": {"field": "fit", "type": "quantitative", "axis": null}, "color": {"datum": "22.1g", "type": "nominal"}, "strokeDash": {"datum": "22.1g", "type": "nominal"}}},
          {"transform": [{"filter": {"field": "fit", "valid": true}}],
           "mark": {"type": "line", "strokeWidth": 2.7},
           "encoding": {"y": {"field": "fit", "type": "quantitative", "axis": null}, "color": {"datum": "22.1h", "type": "nominal"}, "strokeDash": {"datum": "22.1h", "type": "nominal"}}},
          {"transform": [{"filter": "isValid(datum.lab)"}],
           "mark": {"type": "text", "align": "left", "baseline": "alphabetic", "fontSize": 26, "color": "#000000"},
           "encoding": {"x": {"datum": 100.5, "type": "quantitative", "title": null}, "y": {"datum": 0.49, "type": "quantitative", "axis": null}, "text": {"field": "yr", "type": "ordinal"}}},
          {"transform": [{"filter": "isValid(datum.lab)"}],
           "mark": {"type": "text", "align": "right", "baseline": "alphabetic", "fontSize": 19, "color": "#000000"},
           "encoding": {"x": {"datum": 186.6, "type": "quantitative", "title": null}, "y": {"datum": 0.505, "type": "quantitative", "axis": null}, "text": {"field": "lab", "type": "nominal"}}}
        ]
      }
    }
  ],
  "config": {
    "font": "DejaVu Sans",
    "view": {"stroke": "#b3b3b3", "strokeWidth": 1.6},
    "axis": {"grid": false, "domain": false, "tickColor": "#b3b3b3", "tickWidth": 1.5, "tickSize": 6, "labelColor": "#4d4d4d", "labelFont": "DejaVu Sans", "labelFontSize": 23, "titleFont": "DejaVu Sans", "titleFontSize": 29, "titleFontWeight": "normal", "titleColor": "#000000"},
    "header": {"titleFont": "DejaVu Sans", "titleFontSize": 29, "titleFontWeight": "normal", "titleColor": "#000000"},
    "legend": {"labelFont": "DejaVu Sans", "labelFontSize": 22, "labelColor": "#000000", "symbolSize": 720, "symbolStrokeWidth": 2.7, "rowPadding": 9, "labelOffset": 19, "padding": 0}
  }
}
